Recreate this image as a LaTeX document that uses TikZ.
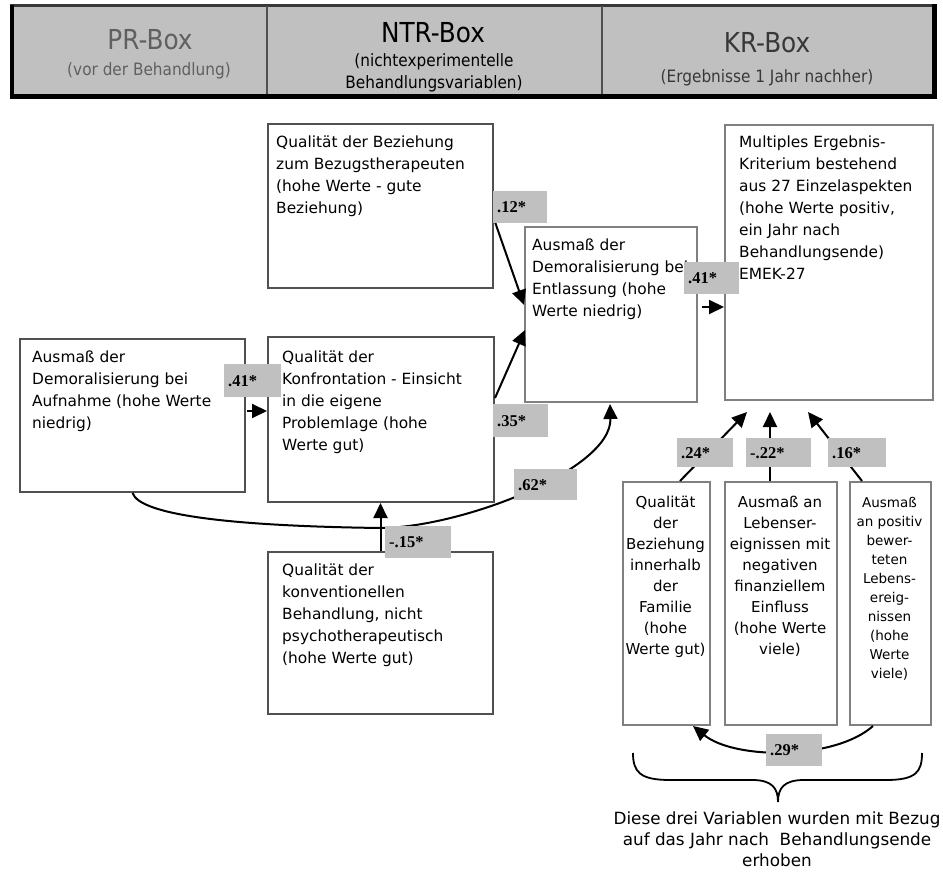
\documentclass[tikz,border=0pt]{standalone}
\usepackage{fontspec}
\setmainfont{DejaVu Sans}
\newfontfamily\lblfont{Liberation Serif}
\newfontfamily\hdrfont[FakeStretch=0.9]{DejaVu Sans}
\usetikzlibrary{arrows.meta,calc}
\definecolor{lblgray}{HTML}{C0C0C0}
\definecolor{darkbd}{HTML}{505050}
\definecolor{lightbd}{HTML}{808080}
\definecolor{prgray}{HTML}{606060}
\definecolor{krgray}{HTML}{383838}
\begin{document}
\begin{tikzpicture}[x=1pt,y=-1pt,
  boxdark/.style={draw=darkbd, line width=2pt, inner sep=0pt, anchor=north west, fill=white},
  boxlight/.style={draw=lightbd, line width=2pt, inner sep=0pt, anchor=north west, fill=white},
  btxt/.style={anchor=north west, inner sep=0pt, align=left, font=\fontsize{15.4}{22}\selectfont},
  gtxt/.style={anchor=north, inner sep=0pt, align=center, font=\fontsize{15}{21}\selectfont},
  gtxts/.style={anchor=north, inner sep=0pt, align=center, font=\fontsize{13.5}{19}\selectfont},
  coef/.style={fill=lblgray, anchor=north west, inner xsep=4pt, inner ysep=0pt, align=left,
    font=\lblfont\bfseries\fontsize{16.5}{16.5}\selectfont},
  arr/.style={line width=2pt, -{Triangle[length=15pt,width=14pt]}},
  hbig/.style={font=\hdrfont\fontsize{27.5}{27.5}\selectfont, inner sep=0pt, anchor=base},
  hsmall/.style={font=\hdrfont\fontsize{17}{21.5}\selectfont, inner sep=0pt, align=center}
]
\useasboundingbox (0,0) rectangle (943,877);
% header
\fill[lblgray] (10,5) rectangle (934,96);
\draw[krgray, line width=3pt] (10,5.5) -- (934,5.5);
\draw[darkbd, line width=1.5pt] (267,6) -- (267,95);
\draw[darkbd, line width=1.5pt] (602,6) -- (602,95);
\node[hbig, text=prgray] (prh) at (150,50) {PR-Box};
\node[hsmall, text=prgray, anchor=base] (prs) at (149,75.5) {(vor der Behandlung)};
\node[hbig, text=black] (ntrh) at (433,43) {NTR-Box};
\node[hsmall, text=black, anchor=north] (ntrs) at (434,53.5) {(nichtexperimentelle\\Behandlungsvariablen)};
\node[hbig, text=krgray] (krh) at (767,53) {KR-Box};
\node[hsmall, text=krgray, anchor=base] (krs) at (767,82.5) {(Ergebnisse 1 Jahr nachher)};
\draw[black, line width=4pt] (11.5,5) -- (11.5,97);
\draw[black, line width=5pt] (934,4) -- (934,99);
\draw[black, line width=5pt] (9.5,97) -- (936.5,97);

% boxes
\node[boxdark, minimum width=225, minimum height=164] (A) at (267,123) {};
\node[boxlight, minimum width=172, minimum height=175] (B) at (524,226) {};
\node[boxlight, minimum width=208, minimum height=275] (C) at (724,124) {};
\node[boxdark, minimum width=225, minimum height=153] (D) at (19,338) {};
\node[boxdark, minimum width=226, minimum height=165] (E) at (267,336) {};
\node[boxdark, minimum width=225, minimum height=162] (F) at (267,551) {};
\node[boxlight, minimum width=87, minimum height=243] (G1) at (622,481) {};
\node[boxlight, minimum width=112, minimum height=243] (G2) at (724,481) {};
\node[boxlight, minimum width=81, minimum height=243] (G3) at (849,481) {};

% texts
\node[btxt] (At) at (276,136) {Qualität der Beziehung\\zum Bezugstherapeuten\\(hohe Werte - gute\\Beziehung)};
\node[btxt] (Bt) at (532,239) {Ausmaß der\\Demoralisierung bei\\Entlassung (hohe\\Werte niedrig)};
\node[btxt] (Ct) at (739,136) {Multiples Ergebnis-\\Kriterium bestehend\\aus 27 Einzelaspekten\\(hohe Werte positiv,\\ein Jahr nach\\Behandlungsende)\\EMEK-27};
\node[btxt] (Dt) at (32,351) {Ausmaß der\\Demoralisierung bei\\Aufnahme (hohe Werte\\niedrig)};
\node[btxt] (Et) at (282,351) {Qualität der\\Konfrontation - Einsicht\\in die eigene\\Problemlage (hohe\\Werte gut)};
\node[btxt] (Ft) at (282,564) {Qualität der\\konventionellen\\Behandlung, nicht\\psychotherapeutisch\\(hohe Werte gut)};
\node[gtxt] (G1t) at (665.5,496) {Qualität\\der\\Beziehung\\innerhalb\\der\\Familie\\(hohe\\Werte gut)};
\node[gtxt] (G2t) at (780,496) {Ausmaß an\\Lebenser-\\eignissen mit\\negativen\\finanziellem\\Einfluss\\(hohe Werte\\viele)};
\node[gtxts] (G3t) at (889.5,497) {Ausmaß\\an positiv\\bewer-\\teten\\Lebens-\\ereig-\\nissen\\(hohe\\Werte\\viele)};

% connectors
\draw[arr] ($(A.north east)+(1,99)$) -- ($(B.north west)+(0,79)$);
\draw[arr] ($(E.north east)+(0,62)$) -- ($(B.north west)+(1,104)$);
\draw[arr] ($(B.north east)+(4,81)$) -- ($(C.north west)+(0,183)$);
\draw[arr] ($(D.north east)+(1,73)$) -- ($(E.north west)+(0,75)$);
\draw[arr] (F.north) -- (F.north |- E.south);
\draw[arr] (D.south) .. controls (140,515) and (230,526) .. (380,528)
  .. controls (460,528) and (612,470) .. ($(B.south west)+(86,1)$);
\draw[arr] ($(G1.north west)+(58,0)$) -- ($(C.south west)+(23,11)$);
\draw[arr] ($(G2.north west)+(46,0)$) -- ($(C.south west)+(46,11)$);
\draw[arr] ($(G3.north west)+(13,0)$) -- ($(C.south west)+(84,11)$);
\draw[arr] ($(G3.south west)+(24,0)$) .. controls (835,760) and (735,760) .. ($(G1.south west)+(71,0)$);

% coefficient labels
\node[coef, minimum width=54, minimum height=32, text width=46] (l12) at (493,191) {.12*};
\node[coef, minimum width=57, minimum height=33, text width=49] (l41a) at (224,364) {.41*};
\node[coef, minimum width=55, minimum height=33, text width=47] (l35) at (493,404) {.35*};
\node[coef, minimum width=63, minimum height=31, text width=55] (l62) at (514,469) {.62*};
\node[coef, minimum width=55, minimum height=32, text width=47] (l41b) at (684,262) {.41*};
\node[coef, minimum width=66, minimum height=32, text width=58] (l15) at (385,526) {-.15*};
\node[coef, minimum width=56, minimum height=29, text width=48] (l24) at (677,438) {.24*};
\node[coef, minimum width=65, minimum height=29, text width=57] (l22) at (746,438) {-.22*};
\node[coef, minimum width=58, minimum height=29, text width=50] (l16) at (828,438) {.16*};
\node[coef, minimum width=56, minimum height=32, text width=48] (l29) at (766,734) {.29*};

% brace
\draw[line width=1.8pt] (633,753) .. controls (633,772) and (640,780) .. (670,780)
  -- (752,780) .. controls (772,780) and (778,788) .. (778,802)
  .. controls (778,788) and (784,780) .. (804,780) -- (886,780)
  .. controls (916,780) and (922,772) .. (922,753);
\node[anchor=north, align=center, inner sep=0pt, font=\fontsize{16.8}{21}\selectfont] (note) at (777,812)
  {Diese drei Variablen wurden mit Bezug\\auf das Jahr nach\ \ Behandlungsende\\erhoben};
\end{tikzpicture}
\end{document}
